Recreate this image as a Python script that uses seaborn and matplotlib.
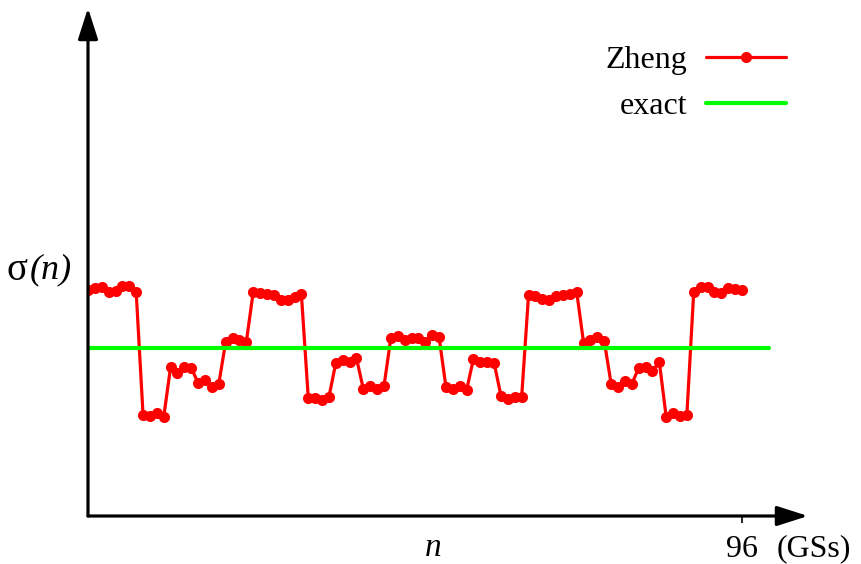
import matplotlib
matplotlib.use("Agg")
import matplotlib.pyplot as plt
import pandas as pd
import seaborn as sns

# Ground-state index and the Zheng estimate of sigma(n)
n_states = list(range(1, 97))
sigma_zheng = [
    1.345, 1.357, 1.363, 1.333, 1.339, 1.369, 1.369, 1.333,
    0.601, 0.595, 0.613, 0.589,
    0.887, 0.851, 0.887, 0.881,
    0.792, 0.810, 0.768, 0.786,
    1.036, 1.060, 1.048, 1.036,
    1.333, 1.327, 1.321, 1.315, 1.286, 1.286, 1.304, 1.321,
    0.702, 0.702, 0.690, 0.708,
    0.911, 0.929, 0.917, 0.940,
    0.756, 0.774, 0.756, 0.774,
    1.060, 1.071, 1.048, 1.060, 1.060, 1.036, 1.077, 1.065,
    0.768, 0.756, 0.774, 0.750,
    0.935, 0.917, 0.917, 0.911,
    0.714, 0.696, 0.708, 0.708,
    1.315, 1.310, 1.292, 1.286, 1.310, 1.315, 1.321, 1.333,
    1.030, 1.048, 1.065, 1.042,
    0.786, 0.768, 0.804, 0.786,
    0.881, 0.887, 0.863, 0.917,
    0.589, 0.613, 0.595, 0.601,
    1.333, 1.363, 1.363, 1.333, 1.327, 1.357, 1.351, 1.345,
]

# Exact reference value
exact_n = [1, 100]
exact_sigma = [1.0, 1.0]

xtick_values = [96]
xtick_labels = ["96"]

sns.set_style("white")
plt.rcParams["font.family"] = ["Liberation Serif", "DejaVu Serif"]
plt.rcParams["text.color"] = "black"
plt.rcParams["xtick.color"] = "black"
plt.rcParams["xtick.labelcolor"] = "black"

W, H = 862, 564
fig = plt.figure(figsize=(W / 100, H / 100), dpi=100)
ax = fig.add_axes([88 / W, 48 / H, 720 / W, 508 / H])

zheng_df = pd.DataFrame({"n": n_states, "sigma": sigma_zheng})
exact_df = pd.DataFrame({"n": exact_n, "sigma": exact_sigma})

sns.lineplot(data=zheng_df, x="n", y="sigma", ax=ax, color="#ff0000",
             linewidth=2.3, marker="o", markersize=8, markeredgewidth=0,
             label="Zheng", legend=False, zorder=3)
sns.lineplot(data=exact_df, x="n", y="sigma", ax=ax, color="#00ff00",
             linewidth=3, label="exact", legend=False, zorder=4)

ax.set_xlim(1, 105.6)
ax.set_ylim(0, 3.024)
ax.set_xlabel("")
ax.set_ylabel("")
for side in ["top", "right", "bottom", "left"]:
    ax.spines[side].set_visible(False)

# Arrow-headed axes
arrow = dict(arrowstyle="-|>,head_length=1.0,head_width=0.32", color="black",
             lw=2.3, shrinkA=0, shrinkB=0, mutation_scale=19)
ax.annotate("", xy=(1, 0), xytext=(0, 0), xycoords="axes fraction",
            textcoords="axes fraction", arrowprops=arrow, zorder=5)
ax.annotate("", xy=(0, 1), xytext=(0, 0), xycoords="axes fraction",
            textcoords="axes fraction", arrowprops=arrow, zorder=5)

ax.set_yticks([])
ax.set_xticks(xtick_values)
ax.set_xticklabels(xtick_labels)
ax.tick_params(axis="x", direction="out", length=5, width=1.2,
               color="black", pad=9, labelsize=23, bottom=True)

# Axis labels
fig.text(433 / W, 1 - 556 / H, "n", fontsize=24, style="italic",
         ha="center", va="baseline")
fig.text(777 / W, 1 - 549 / H, "(GSs)", fontsize=23, ha="left", va="center")
fig.text(7 / W, 1 - 270 / H, "σ", fontsize=28, ha="left", va="center")
fig.text(30 / W, 1 - 270 / H, "(n)", fontsize=26, style="italic",
         ha="left", va="center")

ax.legend(loc="upper right", bbox_to_anchor=(786 / W, 1 - 46 / H),
          bbox_transform=fig.transFigure, frameon=False, markerfirst=False,
          fontsize=23, handlelength=2.5, handletextpad=0.6,
          labelspacing=0.5, borderpad=0, borderaxespad=0)

fig.savefig("out.png", dpi=100)
